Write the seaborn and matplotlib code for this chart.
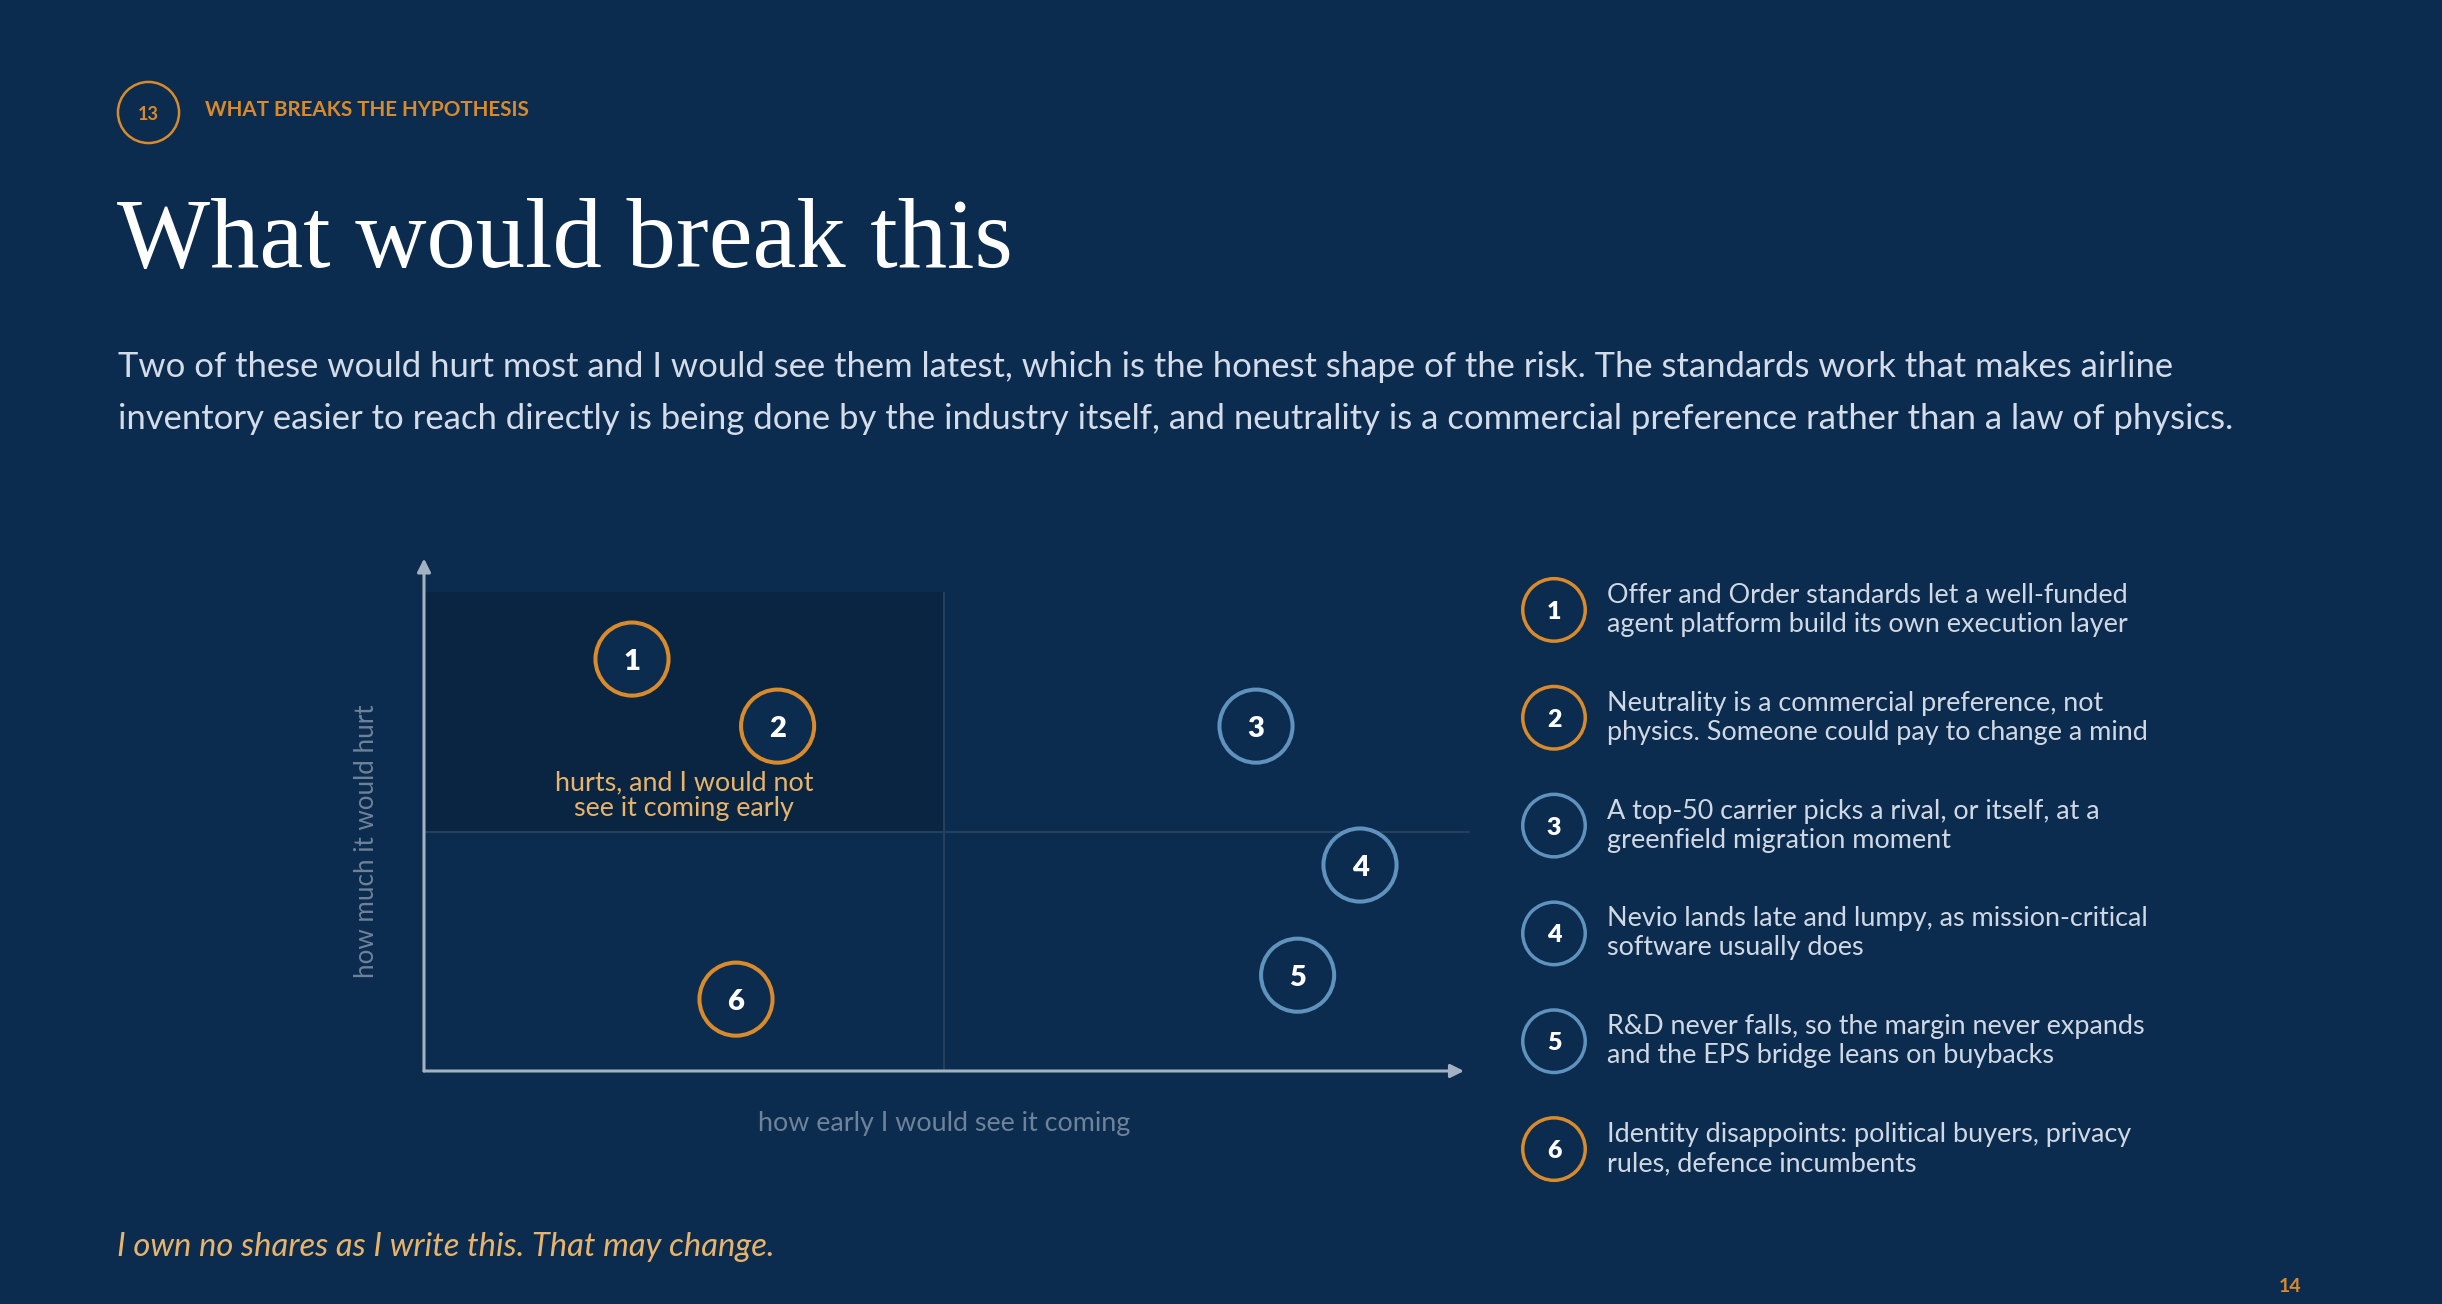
import pandas as pd
import matplotlib
matplotlib.use("Agg")
import matplotlib.pyplot as plt
from matplotlib.patches import Rectangle
from matplotlib.lines import Line2D
import seaborn as sns

# --- data ---
risk_ids = [1, 2, 3, 4, 5, 6]
visibility = [2.0, 3.4, 8.0, 9.0, 8.4, 3.0]   # how early I would see it coming (0-10)
hurt = [8.6, 7.2, 7.2, 4.3, 2.0, 1.5]          # how much it would hurt (0-10)
group = ["late", "late", "early", "early", "early", "late"]
risk_text = [
    "Offer and Order standards let a well-funded\nagent platform build its own execution layer",
    "Neutrality is a commercial preference, not\nphysics. Someone could pay to change a mind",
    "A top-50 carrier picks a rival, or itself, at a\ngreenfield migration moment",
    "Nevio lands late and lumpy, as mission-critical\nsoftware usually does",
    "R&D never falls, so the margin never expands\nand the EPS bridge leans on buybacks",
    "Identity disappoints: political buyers, privacy\nrules, defence incumbents",
]

title = "What would break this"
kicker = "WHAT BREAKS THE HYPOTHESIS"
section_no = "13"
page_no = "14"
subtitle = [
    "Two of these would hurt most and I would see them latest, which is the honest shape of the risk. "
    "The standards work that makes airline",
    "inventory easier to reach directly is being done by the industry itself, and neutrality is a "
    "commercial preference rather than a law of physics.",
]
quadrant_note = "hurts, and I would not\nsee it coming early"
x_label = "how early I would see it coming"
y_label = "how much it would hurt"
footer = "I own no shares as I write this. That may change."

# --- colours ---
BG = "#0c2c4f"
SHADE = "#0a2541"
ORANGE = "#d98b2b"
BLUE = "#5f92bd"
AXIS = "#a3b2c2"
DIVIDER = "#27435f"
palette = {"late": ORANGE, "early": BLUE}

W, H = 2442, 1304

sns.set_theme(style="white")
plt.rcParams["font.family"] = ["Lato", "DejaVu Sans"]

fig = plt.figure(figsize=(W / 100, H / 100), dpi=100, facecolor=BG)
renderer = fig.canvas.get_renderer()


def fx(px):
    return px / W


def fy(py):
    return 1 - py / H


def fit(txt, length_px):
    '''scale a text so its rendered length matches the slide'''
    bb = txt.get_window_extent(renderer)
    size = bb.height if txt.get_rotation() == 90 else bb.width
    txt.set_fontsize(txt.get_fontsize() * length_px / size)
    return txt


def hollow(coll):
    '''turn seaborn's filled hue markers into rings'''
    coll.set_edgecolors(coll.get_facecolors())
    coll.set_facecolors(BG)


# --- header ---
fig.add_artist(Line2D([fx(148)], [fy(112)], marker="o", markersize=44, markerfacecolor="none",
                      markeredgecolor=ORANGE, markeredgewidth=1.8, transform=fig.transFigure))
fig.text(fx(148), fy(113), section_no, ha="center", va="center_baseline", color=ORANGE,
         fontsize=13, fontweight="bold")
fit(fig.text(fx(205), fy(110), kicker, ha="left", va="center", color=ORANGE,
             fontsize=14, fontweight="bold"), 327)

fit(fig.text(fx(117), fy(267), title, ha="left", va="baseline", color="white",
             fontsize=70, family=["Liberation Serif", "DejaVu Serif"]), 897)

sub1 = fit(fig.text(fx(118), fy(377), subtitle[0], ha="left", va="baseline",
                    color="#d3dce8", fontsize=24), 2050)
fig.text(fx(118), fy(429), subtitle[1], ha="left", va="baseline", color="#d3dce8",
         fontsize=sub1.get_fontsize())

# --- risk map ---
ax = fig.add_axes([fx(424), fy(1071), fx(1464) - fx(424), fy(592) - fy(1071)])
ax.set_xlim(0, 10)
ax.set_ylim(0, 10)
ax.axis("off")

ax.add_patch(Rectangle((0, 5), 5, 5, color=SHADE, zorder=0, lw=0))
ax.plot([5, 5], [0, 10], color=DIVIDER, lw=1.3, zorder=1)
ax.plot([0, 10.05], [5, 5], color=DIVIDER, lw=1.3, zorder=1, clip_on=False)

ax.annotate("", xy=(10.0, 0), xytext=(0, 0), annotation_clip=False,
            arrowprops=dict(arrowstyle="-|>", color=AXIS, lw=2.2, mutation_scale=20,
                            shrinkA=0, shrinkB=0))
ax.annotate("", xy=(0, 10.7), xytext=(0, 0), annotation_clip=False,
            arrowprops=dict(arrowstyle="-|>", color=AXIS, lw=2.2, mutation_scale=20,
                            shrinkA=0, shrinkB=0))

risks = pd.DataFrame({"id": risk_ids, "visibility": visibility, "hurt": hurt,
                      "group": group, "text": risk_text})

sns.scatterplot(data=risks, x="visibility", y="hurt", hue="group", palette=palette,
                s=2770, linewidth=2.9, legend=False, ax=ax, zorder=3, clip_on=False)
hollow(ax.collections[-1])

for _, r in risks.iterrows():
    ax.text(r["visibility"], r["hurt"], str(r["id"]), ha="center", va="center_baseline",
            color="white", fontsize=21, fontweight="heavy", zorder=4)

note = ax.text(2.5, 5.75, quadrant_note, ha="center", va="center", color="#e8b36a",
               fontsize=17, linespacing=1.05)
fit(note, 258)

fit(fig.text(fx(367), fy(841), y_label, ha="center", va="center", rotation=90,
             color="#6e8299", fontsize=17), 272)
fit(fig.text(fx(944), fy(1123), x_label, ha="center", va="center",
             color="#6e8299", fontsize=17), 372)

# --- numbered list on the right ---
lg = fig.add_axes([fx(1500), fy(1203), fx(2400) - fx(1500), fy(556) - fy(1203)])
lg.set_xlim(0, 1)
lg.set_ylim(len(risk_ids) - 0.5, -0.5)
lg.axis("off")

risks["row"] = range(len(risks))
risks["col"] = 0.06
sns.scatterplot(data=risks, x="col", y="row", hue="group", palette=palette,
                s=2025, linewidth=2.5, legend=False, ax=lg, zorder=3, clip_on=False)
hollow(lg.collections[-1])

item_texts = []
for _, r in risks.iterrows():
    lg.text(r["col"], r["row"], str(r["id"]), ha="center", va="center_baseline",
            color="white", fontsize=18, fontweight="heavy", zorder=4)
    item_texts.append(lg.text(0.119, r["row"], r["text"], ha="left", va="center",
                              color="#d0d8e3", fontsize=16, linespacing=1.2))
fit(item_texts[1], 544)
for t in item_texts:
    t.set_fontsize(item_texts[1].get_fontsize())

# --- footer ---
fit(fig.text(fx(117), fy(1247), footer, ha="left", va="center", color="#e8b46c",
             fontsize=20, style="italic"), 657)
fig.text(fx(2290), fy(1287), page_no, ha="center", va="center", color=ORANGE,
         fontsize=14, fontweight="bold")

fig.savefig("out.png", dpi=100, facecolor=BG)
